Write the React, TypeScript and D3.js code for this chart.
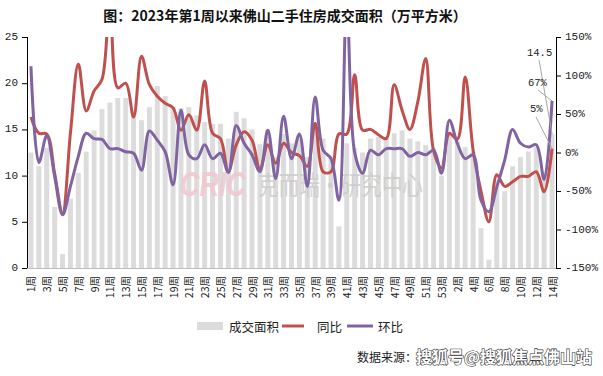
import React from "react";
import * as d3 from "d3";

const title = "图：2023年第1周以来佛山二手住房成交面积（万平方米）";
const weeks2023 = d3.range(1, 54);
const weeks2024 = d3.range(1, 15);
const categories = [...weeks2023, ...weeks2024].map((w) => `${w}周`);

// 成交面积 (万平方米)
const area = [
  12.5, 11.0, 13.0, 6.6, 1.5, 7.5, 10.3, 12.6, 14.9, 17.2,
  17.9, 18.4, 18.4, 17.0, 16.0, 17.4, 19.7, 18.6, 17.5, 17.3,
  17.4, 16.5, 15.8, 15.6, 15.6, 14.0, 16.9, 16.2, 15.0, 13.4,
  15.0, 12.0, 14.5, 13.5, 14.0, 12.0, 15.0, 14.0, 12.0, 4.5,
  13.5, 13.0, 12.5, 14.0, 14.2, 14.0, 14.6, 14.9, 14.0, 13.7,
  13.3, 13.0, 10.0, 14.6, 13.7, 13.1, 12.6, 4.3, 0.9, 9.5,
  8.3, 11.0, 12.0, 12.6, 13.1, 10.2, 14.5,
];
// 同比 (%)
const yoy = [
  46, 25, 24, -27, -79, 25, 115, 54, 80, 95,
  200, 84, 90, 46, 125, 88, 73, 64, 58, 29,
  49, 29, 93, 25, 18, -25, 10, 27, 16, -22,
  10, -14, 12, 0, -4, -18, 38, -25, -25, 24,
  24, 101, 29, 30, 23, 18, 88, 55, 30, 66,
  122, 2, -20, 25, 17, 98, 3, -50, -90, -29,
  -44, -38, -31, -31, -25, -51, 5,
];
// 环比 (%)
const wow = [
  112, -13, 22, -31, -81, -44, -5, 25, 18, 17,
  5, 5, 1, -1, -23, 28, 16, 1, -42, 55,
  -3, -8, 10, -8, -1, -26, 35, 12, -3, -25,
  29, -34, 47, -8, 24, -44, 72, 3, -8, -62,
  200, 0, -27, 3, -3, 5, 5, 5, -5, 0,
  -3, 3, -27, 42, 12, -8, -3, -62, -77, -45,
  -10, 30, 12, 7, 10, -35, 67,
];
const leftTicks = [0, 5, 10, 15, 20, 25];
const rightTicks = [-150, -100, -50, 0, 50, 100, 150];
const legendItems = ["成交面积", "同比", "环比"];
const sourceLabel = "数据来源：";
const sourceMark = "搜狐号@搜狐焦点佛山站";
const lastLabels = ["14.5", "67%", "5%"];

const RED = "#c0504d";
const PURPLE = "#8064a2";
const BAR = "#dcdcdc";
const CJK = "'Noto Sans CJK SC', sans-serif";
const NUM = "'Liberation Mono', monospace";

export default function App() {
  const W = 603, H = 376;
  const L = 27, R = 556, T = 37, B = 268;
  const idx = categories.map((_, i) => i);
  const x = d3.scaleBand<number>().domain(idx).range([L, R]).paddingInner(0.37).paddingOuter(0.185);
  const cx = (i: number) => (x(i) as number) + x.bandwidth() / 2;
  const yL = d3.scaleLinear().domain([0, 25]).range([B, T]);
  const yR = d3.scaleLinear().domain([-150, 150]).range([B, T]);
  const lineGen = d3
    .line<number>()
    .x((_, i) => cx(i))
    .y((d) => yR(d))
    .curve(d3.curveCatmullRom.alpha(0.5));

  const last = categories.length - 1;
  const lx = cx(last);

  return (
    <svg
      width={W}
      height={H}
      style={{ position: "absolute", left: 0, top: 0, background: "#fff" }}
    >
      <rect x={0} y={0} width={W} height={H} fill="#fff" />
      <defs>
        <clipPath id="plot">
          <rect x={L} y={T} width={R - L} height={B - T} />
        </clipPath>
      </defs>
      <text x={285} y={21} textAnchor="middle" fontFamily={CJK} fontWeight="bold" fontSize={14} fill="#111">
        {title}
      </text>

      {/* bars */}
      {area.map((v, i) => (
        <rect key={i} x={x(i)} y={yL(v)} width={x.bandwidth()} height={B - yL(v)} fill={BAR} />
      ))}

      {/* watermark */}
      <text x={180} y={196} fontFamily="'Liberation Sans', sans-serif" fontWeight="bold" fontStyle="italic"
        fontSize={35} fill="#f3c6cf" opacity={0.85} textLength={66} lengthAdjust="spacingAndGlyphs">
        CRIC
      </text>
      <text x={258} y={195} fontFamily={CJK} fontSize={26} fill="#c8c8c8" opacity={0.75}
        textLength={165} lengthAdjust="spacingAndGlyphs">
        克而瑞·研究中心
      </text>

      {/* lines */}
      <g clipPath="url(#plot)">
        <path d={lineGen(yoy) || ""} fill="none" stroke={RED} strokeWidth={3} strokeLinejoin="round" />
        <path d={lineGen(wow) || ""} fill="none" stroke={PURPLE} strokeWidth={3} strokeLinejoin="round" />
      </g>

      {/* bottom axis */}
      <line x1={L} x2={R} y1={B + 0.5} y2={B + 0.5} stroke="#bfbfbf" />
      {idx.filter((i) => i % 2 === 0).map((i) => (
        <text key={i} x={0} y={0} transform={`translate(${cx(i)},276) rotate(-90)`} textAnchor="end"
          dominantBaseline="central" fontFamily={CJK} fontSize={10.5} fill="#222">
          {categories[i]}
        </text>
      ))}

      {/* left axis */}
      <line x1={L + 0.5} x2={L + 0.5} y1={T} y2={B} stroke="#000" />
      {leftTicks.map((t) => (
        <g key={t}>
          <line x1={L - 5} x2={L} y1={yL(t) + 0.5} y2={yL(t) + 0.5} stroke="#000" />
          <text x={18} y={yL(t)} textAnchor="end" dominantBaseline="central" fontFamily={NUM} fontSize={11} fill="#222">
            {t}
          </text>
        </g>
      ))}

      {/* right axis */}
      <line x1={R + 0.5} x2={R + 0.5} y1={T} y2={B} stroke="#000" />
      {rightTicks.map((t) => (
        <g key={t}>
          <line x1={R} x2={R + 5} y1={yR(t) + 0.5} y2={yR(t) + 0.5} stroke="#000" />
          <text x={565} y={yR(t)} textAnchor="start" dominantBaseline="central" fontFamily={NUM} fontSize={11} fill="#222">
            {`${t}%`}
          </text>
        </g>
      ))}

      {/* end labels */}
      <line x1={539} y1={60} x2={lx} y2={yL(area[last])} stroke="#a6a6a6" strokeWidth={1} />
      <line x1={538} y1={90} x2={lx} y2={yR(wow[last])} stroke="#a6a6a6" strokeWidth={1} />
      <line x1={536} y1={117} x2={lx} y2={yR(yoy[last])} stroke="#a6a6a6" strokeWidth={1} />
      <text x={527} y={56} fontFamily={NUM} fontSize={10.5} fill="#222">{lastLabels[0]}</text>
      <text x={528} y={86} fontFamily={NUM} fontSize={10.5} fill="#222">{lastLabels[1]}</text>
      <text x={530} y={112} fontFamily={NUM} fontSize={10.5} fill="#222">{lastLabels[2]}</text>

      {/* legend */}
      <rect x={197} y={322} width={26} height={8} fill={BAR} />
      <text x={229} y={326} dominantBaseline="central" fontFamily={CJK} fontSize={12.5} fill="#222">{legendItems[0]}</text>
      <line x1={282} x2={304} y1={326} y2={326} stroke={RED} strokeWidth={3} />
      <text x={317} y={326} dominantBaseline="central" fontFamily={CJK} fontSize={12.5} fill="#222">{legendItems[1]}</text>
      <line x1={347} x2={373} y1={326} y2={326} stroke={PURPLE} strokeWidth={3} />
      <text x={378} y={326} dominantBaseline="central" fontFamily={CJK} fontSize={12.5} fill="#222">{legendItems[2]}</text>

      {/* source */}
      <text x={357} y={356} dominantBaseline="central" fontFamily={CJK} fontSize={12} fill="#222">{sourceLabel}</text>
      <text x={416} y={356} dominantBaseline="central" fontFamily={CJK} fontWeight="bold" fontSize={16}
        fill="#fff" stroke="#333" strokeWidth={1.2} paintOrder="stroke" textLength={176} lengthAdjust="spacingAndGlyphs">
        {sourceMark}
      </text>
    </svg>
  );
}
